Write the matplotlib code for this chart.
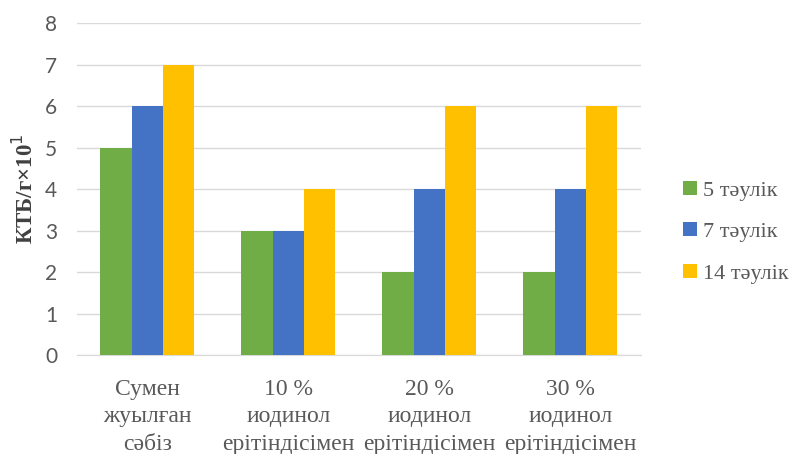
import matplotlib
matplotlib.use("Agg")
from matplotlib import pyplot as plt
import numpy as np

categories = ["Сумен\nжуылған\nсәбіз",
              "10 %\nиодинол\nерітіндісімен",
              "20 %\nиодинол\nерітіндісімен",
              "30 %\nиодинол\nерітіндісімен"]
series_names = ["5 тәулік", "7 тәулік", "14 тәулік"]
day5 = [5, 3, 2, 2]
day7 = [6, 3, 4, 4]
day14 = [7, 4, 6, 6]
colors = ["#70AD47", "#4472C4", "#FFC000"]

fig = plt.figure(figsize=(7.92, 4.54), dpi=100)
ax = fig.add_axes([0.097, 0.218, 0.712, 0.731])

x = np.arange(len(categories))
w = 1 / (3 + 1.5)
for k, vals in enumerate([day5, day7, day14]):
    ax.bar(x + (k - 1) * w, vals, width=w, color=colors[k],
           label=series_names[k], zorder=3)

ax.set_xlim(-0.5, len(categories) - 0.5)
ax.set_ylim(0, 8)
ax.set_yticks(range(0, 9))
ax.yaxis.grid(True, color="#D9D9D9", linewidth=1, zorder=0)
for s in ["top", "right", "left"]:
    ax.spines[s].set_visible(False)
ax.spines["bottom"].set_color("#D9D9D9")
ax.tick_params(axis="both", length=0)
ax.tick_params(axis="y", pad=14, labelsize=15, labelcolor="#595959")
for lab in ax.get_yticklabels():
    lab.set_fontfamily("Lato")

ax.set_xticks(x)
ax.set_xticklabels(categories, fontfamily="Liberation Serif", fontsize=17,
                   color="#595959", linespacing=1.42)
ax.tick_params(axis="x", pad=17)

ax.set_ylabel("КТБ/г×10$^1$", fontfamily="Liberation Serif", fontsize=16.5,
              fontweight="bold", color="#404040", labelpad=5)

leg = ax.legend(loc="center left", bbox_to_anchor=(1.04, 0.37), frameon=False,
                prop={"family": "Liberation Serif", "size": 16},
                handlelength=0.6, handleheight=0.6, handletextpad=0.3,
                labelspacing=0.98)
for t in leg.get_texts():
    t.set_color("#595959")

fig.savefig("out.png", dpi=100)
